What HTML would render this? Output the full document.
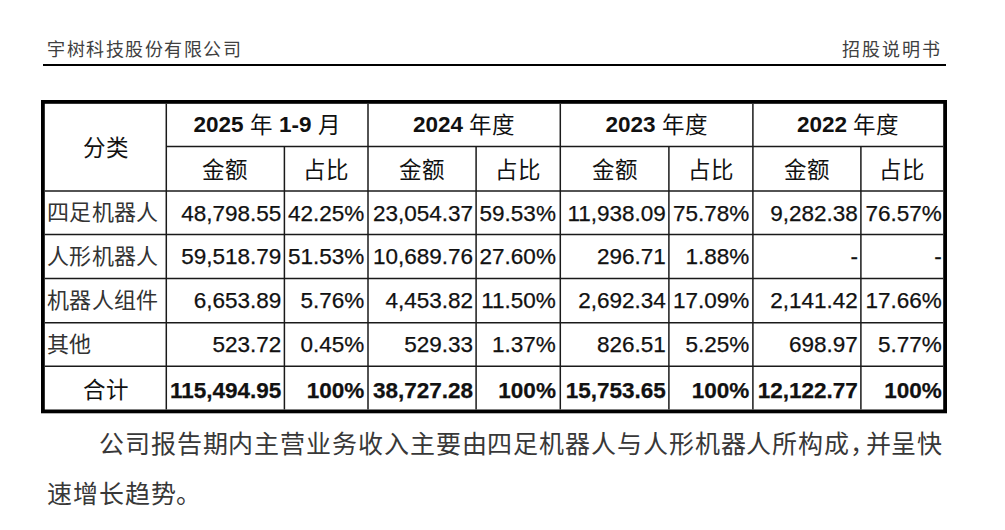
<!DOCTYPE html>
<html lang="zh-CN"><head><meta charset="utf-8"><title>招股说明书</title>
<style>
html,body{margin:0;padding:0;background:#fff;}
body{width:1005px;height:530px;position:relative;overflow:hidden;}
.grid{position:absolute;left:0;top:0;}
.c{position:absolute;white-space:nowrap;}
.hz{font-family:"Liberation Sans",sans-serif;font-size:22.5px;color:#111;}
.hz b{font-weight:bold;}
.hz i{font-style:normal;position:relative;top:1px;}
.sz{font-family:"Liberation Serif",serif;font-size:22px;letter-spacing:0.1px;color:#333;}
.num{font-family:"Liberation Sans",sans-serif;font-size:22.5px;color:#111;-webkit-text-stroke:0.25px #111;}
.num.b{font-weight:bold;}
.hd{position:absolute;font-family:"Liberation Serif",serif;font-size:18px;letter-spacing:1.5px;color:#404040;line-height:20px;white-space:nowrap;}
.p{position:absolute;font-family:"Liberation Serif",serif;font-size:25px;letter-spacing:0.9px;color:#383838;line-height:50px;white-space:nowrap;}
.p .cm{display:inline-block;width:15.4px;letter-spacing:0;overflow:visible;}
</style></head><body>
<div class="hd" style="left:47px;top:40px;">宇树科技股份有限公司</div>
<div class="hd" style="left:842px;top:40px;letter-spacing:1.9px;">招股说明书</div>
<svg class="grid" width="1005" height="530" viewBox="0 0 1005 530"><rect x="42.9" y="101.9" width="902.2" height="309.5" fill="none" stroke="#000" stroke-width="3.8"/><line x1="166.3" y1="103.8" x2="166.3" y2="409.5" stroke="#1a1a1a" stroke-width="1.5"/><line x1="368.0" y1="103.8" x2="368.0" y2="409.5" stroke="#1a1a1a" stroke-width="1.5"/><line x1="560.3" y1="103.8" x2="560.3" y2="409.5" stroke="#1a1a1a" stroke-width="1.5"/><line x1="752.9" y1="103.8" x2="752.9" y2="409.5" stroke="#1a1a1a" stroke-width="1.5"/><line x1="284.4" y1="146.4" x2="284.4" y2="409.5" stroke="#1a1a1a" stroke-width="1.5"/><line x1="476.1" y1="146.4" x2="476.1" y2="409.5" stroke="#1a1a1a" stroke-width="1.5"/><line x1="668.9" y1="146.4" x2="668.9" y2="409.5" stroke="#1a1a1a" stroke-width="1.5"/><line x1="860.9" y1="146.4" x2="860.9" y2="409.5" stroke="#1a1a1a" stroke-width="1.5"/><line x1="166.3" y1="146.4" x2="943.2" y2="146.4" stroke="#1a1a1a" stroke-width="1.5"/><line x1="44.8" y1="191.0" x2="943.2" y2="191.0" stroke="#1a1a1a" stroke-width="1.5"/><line x1="44.8" y1="234.6" x2="943.2" y2="234.6" stroke="#1a1a1a" stroke-width="1.5"/><line x1="44.8" y1="278.4" x2="943.2" y2="278.4" stroke="#1a1a1a" stroke-width="1.5"/><line x1="44.8" y1="322.7" x2="943.2" y2="322.7" stroke="#1a1a1a" stroke-width="1.5"/><line x1="44.8" y1="366.3" x2="943.2" y2="366.3" stroke="#1a1a1a" stroke-width="1.5"/><line x1="43" y1="65" x2="946" y2="65" stroke="#000" stroke-width="2"/></svg><div class="c hz" style="left:44.80px;top:104.80px;width:121.50px;height:87.20px;line-height:87.20px;text-align:center;">分类</div><div class="c hz" style="left:166.30px;top:103.80px;width:201.70px;height:42.60px;line-height:42.60px;text-align:center;"><b>2025</b> <i>年</i> <b>1-9</b> <i>月</i></div><div class="c hz" style="left:166.30px;top:148.90px;width:118.10px;height:44.60px;line-height:44.60px;text-align:center;">金额</div><div class="c hz" style="left:284.40px;top:148.90px;width:83.60px;height:44.60px;line-height:44.60px;text-align:center;">占比</div><div class="c hz" style="left:368.00px;top:103.80px;width:192.30px;height:42.60px;line-height:42.60px;text-align:center;"><b>2024</b> <i>年度</i></div><div class="c hz" style="left:368.00px;top:148.90px;width:108.10px;height:44.60px;line-height:44.60px;text-align:center;">金额</div><div class="c hz" style="left:476.10px;top:148.90px;width:84.20px;height:44.60px;line-height:44.60px;text-align:center;">占比</div><div class="c hz" style="left:560.30px;top:103.80px;width:192.60px;height:42.60px;line-height:42.60px;text-align:center;"><b>2023</b> <i>年度</i></div><div class="c hz" style="left:560.30px;top:148.90px;width:108.60px;height:44.60px;line-height:44.60px;text-align:center;">金额</div><div class="c hz" style="left:668.90px;top:148.90px;width:84.00px;height:44.60px;line-height:44.60px;text-align:center;">占比</div><div class="c hz" style="left:752.90px;top:103.80px;width:190.30px;height:42.60px;line-height:42.60px;text-align:center;"><b>2022</b> <i>年度</i></div><div class="c hz" style="left:752.90px;top:148.90px;width:108.00px;height:44.60px;line-height:44.60px;text-align:center;">金额</div><div class="c hz" style="left:860.90px;top:148.90px;width:82.30px;height:44.60px;line-height:44.60px;text-align:center;">占比</div><div class="c sz" style="left:44.80px;top:191.30px;width:121.50px;height:43.60px;line-height:43.60px;text-align:left;padding-left:2.6px;box-sizing:border-box;">四足机器人</div><div class="c num" style="left:166.30px;top:191.70px;width:118.10px;height:43.60px;line-height:43.60px;text-align:right;padding-right:3.0px;box-sizing:border-box;">48,798.55</div><div class="c num" style="left:284.40px;top:191.70px;width:83.60px;height:43.60px;line-height:43.60px;text-align:right;padding-right:3.8px;box-sizing:border-box;">42.25%</div><div class="c num" style="left:368.00px;top:191.70px;width:108.10px;height:43.60px;line-height:43.60px;text-align:right;padding-right:3.0px;box-sizing:border-box;">23,054.37</div><div class="c num" style="left:476.10px;top:191.70px;width:84.20px;height:43.60px;line-height:43.60px;text-align:right;padding-right:4.4px;box-sizing:border-box;">59.53%</div><div class="c num" style="left:560.30px;top:191.70px;width:108.60px;height:43.60px;line-height:43.60px;text-align:right;padding-right:3.0px;box-sizing:border-box;">11,938.09</div><div class="c num" style="left:668.90px;top:191.70px;width:84.00px;height:43.60px;line-height:43.60px;text-align:right;padding-right:3.7px;box-sizing:border-box;">75.78%</div><div class="c num" style="left:752.90px;top:191.70px;width:108.00px;height:43.60px;line-height:43.60px;text-align:right;padding-right:3.0px;box-sizing:border-box;">9,282.38</div><div class="c num" style="left:860.90px;top:191.70px;width:82.30px;height:43.60px;line-height:43.60px;text-align:right;padding-right:1.4px;box-sizing:border-box;">76.57%</div><div class="c sz" style="left:44.80px;top:234.90px;width:121.50px;height:43.80px;line-height:43.80px;text-align:left;padding-left:2.6px;box-sizing:border-box;">人形机器人</div><div class="c num" style="left:166.30px;top:235.30px;width:118.10px;height:43.80px;line-height:43.80px;text-align:right;padding-right:3.0px;box-sizing:border-box;">59,518.79</div><div class="c num" style="left:284.40px;top:235.30px;width:83.60px;height:43.80px;line-height:43.80px;text-align:right;padding-right:3.8px;box-sizing:border-box;">51.53%</div><div class="c num" style="left:368.00px;top:235.30px;width:108.10px;height:43.80px;line-height:43.80px;text-align:right;padding-right:3.0px;box-sizing:border-box;">10,689.76</div><div class="c num" style="left:476.10px;top:235.30px;width:84.20px;height:43.80px;line-height:43.80px;text-align:right;padding-right:4.4px;box-sizing:border-box;">27.60%</div><div class="c num" style="left:560.30px;top:235.30px;width:108.60px;height:43.80px;line-height:43.80px;text-align:right;padding-right:3.0px;box-sizing:border-box;">296.71</div><div class="c num" style="left:668.90px;top:235.30px;width:84.00px;height:43.80px;line-height:43.80px;text-align:right;padding-right:3.7px;box-sizing:border-box;">1.88%</div><div class="c num" style="left:752.90px;top:235.30px;width:108.00px;height:43.80px;line-height:43.80px;text-align:right;padding-right:3.0px;box-sizing:border-box;">-</div><div class="c num" style="left:860.90px;top:235.30px;width:82.30px;height:43.80px;line-height:43.80px;text-align:right;padding-right:1.4px;box-sizing:border-box;">-</div><div class="c sz" style="left:44.80px;top:278.70px;width:121.50px;height:44.30px;line-height:44.30px;text-align:left;padding-left:2.6px;box-sizing:border-box;">机器人组件</div><div class="c num" style="left:166.30px;top:279.10px;width:118.10px;height:44.30px;line-height:44.30px;text-align:right;padding-right:3.0px;box-sizing:border-box;">6,653.89</div><div class="c num" style="left:284.40px;top:279.10px;width:83.60px;height:44.30px;line-height:44.30px;text-align:right;padding-right:3.8px;box-sizing:border-box;">5.76%</div><div class="c num" style="left:368.00px;top:279.10px;width:108.10px;height:44.30px;line-height:44.30px;text-align:right;padding-right:3.0px;box-sizing:border-box;">4,453.82</div><div class="c num" style="left:476.10px;top:279.10px;width:84.20px;height:44.30px;line-height:44.30px;text-align:right;padding-right:4.4px;box-sizing:border-box;">11.50%</div><div class="c num" style="left:560.30px;top:279.10px;width:108.60px;height:44.30px;line-height:44.30px;text-align:right;padding-right:3.0px;box-sizing:border-box;">2,692.34</div><div class="c num" style="left:668.90px;top:279.10px;width:84.00px;height:44.30px;line-height:44.30px;text-align:right;padding-right:3.7px;box-sizing:border-box;">17.09%</div><div class="c num" style="left:752.90px;top:279.10px;width:108.00px;height:44.30px;line-height:44.30px;text-align:right;padding-right:3.0px;box-sizing:border-box;">2,141.42</div><div class="c num" style="left:860.90px;top:279.10px;width:82.30px;height:44.30px;line-height:44.30px;text-align:right;padding-right:1.4px;box-sizing:border-box;">17.66%</div><div class="c sz" style="left:44.80px;top:323.00px;width:121.50px;height:43.60px;line-height:43.60px;text-align:left;padding-left:2.6px;box-sizing:border-box;">其他</div><div class="c num" style="left:166.30px;top:323.40px;width:118.10px;height:43.60px;line-height:43.60px;text-align:right;padding-right:3.0px;box-sizing:border-box;">523.72</div><div class="c num" style="left:284.40px;top:323.40px;width:83.60px;height:43.60px;line-height:43.60px;text-align:right;padding-right:3.8px;box-sizing:border-box;">0.45%</div><div class="c num" style="left:368.00px;top:323.40px;width:108.10px;height:43.60px;line-height:43.60px;text-align:right;padding-right:3.0px;box-sizing:border-box;">529.33</div><div class="c num" style="left:476.10px;top:323.40px;width:84.20px;height:43.60px;line-height:43.60px;text-align:right;padding-right:4.4px;box-sizing:border-box;">1.37%</div><div class="c num" style="left:560.30px;top:323.40px;width:108.60px;height:43.60px;line-height:43.60px;text-align:right;padding-right:3.0px;box-sizing:border-box;">826.51</div><div class="c num" style="left:668.90px;top:323.40px;width:84.00px;height:43.60px;line-height:43.60px;text-align:right;padding-right:3.7px;box-sizing:border-box;">5.25%</div><div class="c num" style="left:752.90px;top:323.40px;width:108.00px;height:43.60px;line-height:43.60px;text-align:right;padding-right:3.0px;box-sizing:border-box;">698.97</div><div class="c num" style="left:860.90px;top:323.40px;width:82.30px;height:43.60px;line-height:43.60px;text-align:right;padding-right:1.4px;box-sizing:border-box;">5.77%</div><div class="c hz" style="left:44.80px;top:369.30px;width:121.50px;height:43.20px;line-height:43.20px;text-align:center;">合计</div><div class="c num b" style="left:166.30px;top:369.30px;width:118.10px;height:43.20px;line-height:43.20px;text-align:right;padding-right:3.0px;box-sizing:border-box;">115,494.95</div><div class="c num b" style="left:284.40px;top:369.30px;width:83.60px;height:43.20px;line-height:43.20px;text-align:right;padding-right:3.8px;box-sizing:border-box;">100%</div><div class="c num b" style="left:368.00px;top:369.30px;width:108.10px;height:43.20px;line-height:43.20px;text-align:right;padding-right:3.0px;box-sizing:border-box;">38,727.28</div><div class="c num b" style="left:476.10px;top:369.30px;width:84.20px;height:43.20px;line-height:43.20px;text-align:right;padding-right:4.4px;box-sizing:border-box;">100%</div><div class="c num b" style="left:560.30px;top:369.30px;width:108.60px;height:43.20px;line-height:43.20px;text-align:right;padding-right:3.0px;box-sizing:border-box;">15,753.65</div><div class="c num b" style="left:668.90px;top:369.30px;width:84.00px;height:43.20px;line-height:43.20px;text-align:right;padding-right:3.7px;box-sizing:border-box;">100%</div><div class="c num b" style="left:752.90px;top:369.30px;width:108.00px;height:43.20px;line-height:43.20px;text-align:right;padding-right:3.0px;box-sizing:border-box;">12,122.77</div><div class="c num b" style="left:860.90px;top:369.30px;width:82.30px;height:43.20px;line-height:43.20px;text-align:right;padding-right:1.4px;box-sizing:border-box;">100%</div>
<div class="p" style="left:99px;top:420px;">公司报告期内主营业务收入主要由四足机器人与人形机器人所构成<span class="cm">，</span>并呈快</div>
<div class="p" style="left:47px;top:470px;">速增长趋势。</div>
</body></html>
